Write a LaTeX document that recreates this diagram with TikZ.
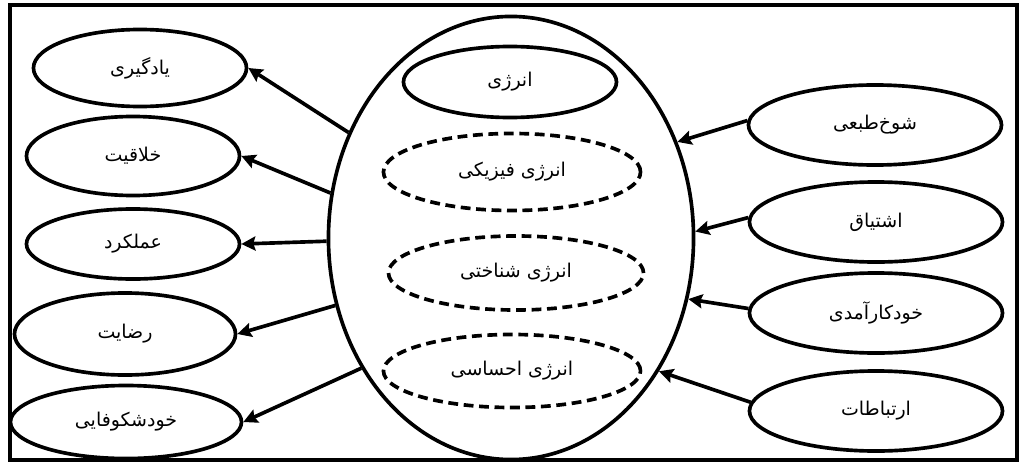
\documentclass[tikz,border=0pt]{standalone}
\usepackage{fontspec}
\usepackage{tikz}
\usetikzlibrary{arrows.meta,shapes.geometric}
\newfontfamily\arabicfont[Script=Arabic]{DejaVu Sans}
\TeXXeTstate=1
\newcommand{\pers}[1]{\arabicfont\beginR #1\endR}

\begin{document}
\begin{tikzpicture}[
  x=0.025cm,y=0.025cm,
  oval/.style={ellipse,draw,line width=2.6pt,inner sep=0pt,font=\fontsize{13.5}{16}\selectfont},
  dashoval/.style={oval,dash pattern=on 7pt off 4pt},
  outer/.style={oval,minimum width=5.325cm,minimum height=1.925cm},
  side/.style={oval,minimum width=6.325cm,minimum height=2cm},
  arr/.style={-{Stealth[length=10pt,width=10pt,inset=1.5pt]},line width=2.6pt}
]
\useasboundingbox (0,0) rectangle (1025,463);
\draw[line width=2.6pt] (10,3) rectangle (1017,458);
% central energy
\node[oval,minimum width=9.125cm,minimum height=11.075cm] (big) at (511,225) {};
\node[oval,minimum width=5.325cm,minimum height=1.775cm] (energy) at (510,381) {\pers{انرژی}};
\node[dashoval,minimum width=6.425cm,minimum height=1.925cm] (phys) at (512,291) {\pers{انرژی فیزیکی}};
\node[dashoval,minimum width=6.375cm,minimum height=1.85cm] (cogn) at (516,190) {\pers{انرژی شناختی}};
\node[dashoval,minimum width=6.425cm,minimum height=1.825cm] (emo) at (512,92) {\pers{انرژی احساسی}};
% outcomes
\node[outer] (learn) at (140,395) {\pers{یادگیری}};
\node[outer,minimum height=1.975cm] (creat) at (133,307) {\pers{خلاقیت}};
\node[outer,minimum height=1.75cm] (perf) at (133,219) {\pers{عملکرد}};
\node[outer,minimum width=5.525cm,minimum height=2.05cm] (satis) at (125,129) {\pers{رضایت}};
\node[outer,minimum width=5.775cm,minimum height=1.825cm] (selfact) at (126,41) {\pers{خودشکوفایی}};
% sources
\node[side] (humor) at (875,338) {\pers{شوخ‌طبعی}};
\node[side] (zeal) at (876,241) {\pers{اشتیاق}};
\node[side] (selfeff) at (876,150) {\pers{خودکارآمدی}};
\node[side] (comm) at (876,52) {\pers{ارتباطات}};
\draw[arr] (big.147) -- (learn.east);
\draw[arr] (big.166) -- (creat.east);
\draw[arr] (big.181) -- (perf.east);
\draw[arr] (big.201) -- (satis.east);
\draw[arr] (big.221) -- (selfact.east);
\draw[arr] (humor.178) -- (big.30);
\draw[arr] (zeal.178) -- (big.2);
\draw[arr] (selfeff.178) -- (big.-19);
\draw[arr] (comm.176) -- (big.-42);
\end{tikzpicture}
\end{document}
